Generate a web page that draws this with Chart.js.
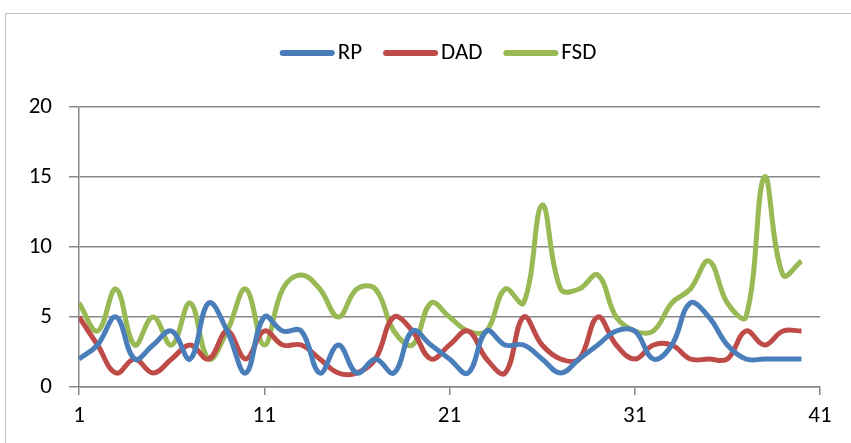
<!DOCTYPE html>
<html>
<head>
  <meta charset="UTF-8">
  <title>RP / DAD / FSD</title>
  <script src="https://cdn.jsdelivr.net/npm/chart.js"></script>
  <style>
    html, body { margin: 0; padding: 0; background: #fff; overflow: hidden; }
    #wrap { position: relative; width: 851px; height: 443px; }
    #frame { position: absolute; left: 5px; top: 13px; width: 900px; height: 500px; border: 1px solid #bfbfbf; box-sizing: border-box; }
    #chart { position: absolute; left: 0; top: 0; }
  </style>
</head>
<body>
<div id="wrap">
  <div id="frame"></div>
  <canvas id="chart" width="851" height="443"></canvas>
</div>
<script>
const xs = [1,2,3,4,5,6,7,8,9,10,11,12,13,14,15,16,17,18,19,20,21,22,23,24,25,26,27,28,29,30,31,32,33,34,35,36,37,38,39,40];
const rp  = [2,3,5,2,3,4,2,6,4,1,5,4,4,1,3,1,2,1,4,3,2,1,4,3,3,2,1,2,3,4,4,2,3,6,5,3,2,2,2,2];
const dad = [5,3,1,2,1,2,3,2,4,2,4,3,3,2,1,1,2,5,4,2,3,4,2,1,5,3,2,2,5,3,2,3,3,2,2,2,4,3,4,4];
const fsd = [6,4,7,3,5,3,6,2,4,7,3,7,8,7,5,7,7,4,3,6,5,4,4,7,6,13,7,7,8,5,4,4,6,7,9,6,5,15,8,9];
const xTicks = [1, 11, 21, 31, 41];
const yTicks = [0, 5, 10, 15, 20];

const font = "Carlito, 'Liberation Sans Narrow', 'Liberation Sans', sans-serif";
const axisGray = '#888888';

function series(label, vals, color) {
  return {
    label: label,
    data: vals.map((v, i) => ({ x: xs[i], y: v })),
    borderColor: color,
    backgroundColor: color,
    borderWidth: 5,
    pointRadius: 0,
    tension: 0.4,
    fill: false
  };
}

// Excel-style legend: long line swatch, text right next to it
const lineLegend = {
  id: 'lineLegend',
  afterDraw(chart) {
    const ctx = chart.ctx;
    const boxW = 55, gap = 3, itemGap = 21, cx = 438, cy = 53;
    ctx.save();
    ctx.font = '23px ' + font;
    const items = chart.data.datasets.map(d => ({ text: d.label, color: d.borderColor, w: ctx.measureText(d.label).width }));
    const total = items.reduce((s, it) => s + boxW + gap + it.w, 0) + itemGap * (items.length - 1);
    let x = cx - total / 2;
    ctx.textBaseline = 'middle';
    ctx.lineCap = 'round';
    items.forEach(it => {
      ctx.strokeStyle = it.color;
      ctx.lineWidth = 6;
      ctx.beginPath();
      ctx.moveTo(x + 3, cy);
      ctx.lineTo(x + boxW - 3, cy);
      ctx.stroke();
      ctx.fillStyle = '#000';
      ctx.fillText(it.text, x + boxW + gap, cy);
      x += boxW + gap + it.w + itemGap;
    });
    ctx.restore();
  }
};

new Chart(document.getElementById('chart'), {
  type: 'line',
  data: {
    datasets: [
      series('RP', rp, '#4a7ebb'),
      series('DAD', dad, '#be4b48'),
      series('FSD', fsd, '#98b954')
    ]
  },
  options: {
    responsive: false,
    animation: false,
    layout: { padding: { top: 107, right: 31, left: 0, bottom: 0 } },
    plugins: {
      legend: { display: false },
      tooltip: { enabled: false }
    },
    scales: {
      x: {
        type: 'linear',
        min: 1,
        max: 41,
        afterBuildTicks: s => { s.ticks = xTicks.map(v => ({ value: v })); },
        afterFit: s => { s.height = 56; },
        grid: { drawOnChartArea: false, drawTicks: true, tickLength: 8, color: axisGray, lineWidth: 1.5 },
        border: { color: axisGray, width: 1.5 },
        ticks: { color: '#000', font: { family: font, size: 23 }, padding: 7, maxRotation: 0 }
      },
      y: {
        min: 0,
        max: 20,
        afterBuildTicks: s => { s.ticks = yTicks.map(v => ({ value: v })); },
        afterFit: s => { s.width = 79; },
        grid: { color: axisGray, lineWidth: 1.5, tickLength: 10 },
        border: { color: axisGray, width: 1.5 },
        ticks: { color: '#000', font: { family: font, size: 23 }, padding: 17 }
      }
    }
  },
  plugins: [lineLegend]
});
</script>
</body>
</html>
